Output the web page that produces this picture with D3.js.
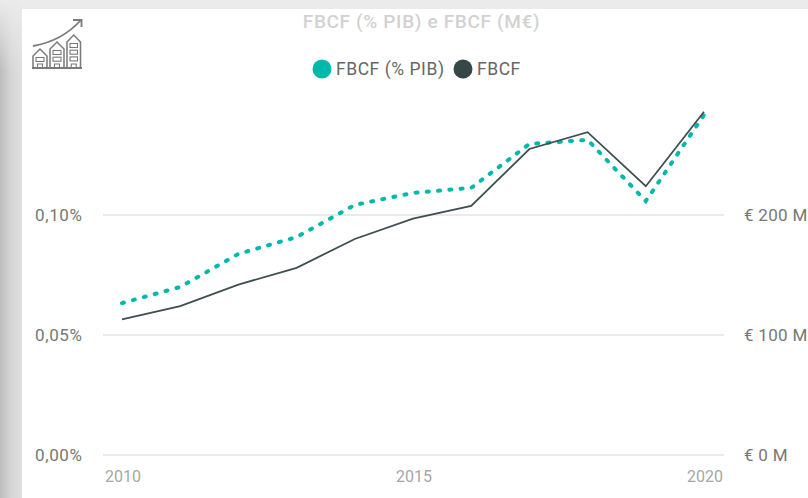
<!DOCTYPE html>
<html><head><meta charset="utf-8">
<script src="https://cdn.jsdelivr.net/npm/d3@7"></script>
<style>
html,body{margin:0;padding:0;background:#fff;overflow:hidden}
svg{display:block}
text{font-family:Roboto,"Noto Sans",sans-serif}
</style></head><body><div id="chart"></div>
<script>
const years=[2010,2011,2012,2013,2014,2015,2016,2017,2018,2019,2020];
const pctValues=[0.0633,0.0700,0.0838,0.0908,0.1042,0.1092,0.1113,0.1296,0.1313,0.1058,0.1417];
const fbcfValues=[113,124,142,156,180,197,207.5,255,269,224,286];
const leftTicks=[0,0.05,0.10];
const rightTicks=[0,100,200];
const xTicks=[2010,2015,2020];
const titleText="FBCF (% PIB) e FBCF (M€)";
const legendLabels=["FBCF (% PIB)","FBCF"];
const teal="#01b8aa", dark="#374649";

const svg=d3.select("#chart").append("svg").attr("width",808).attr("height",498);
const defs=svg.append("defs");
const g1=defs.append("linearGradient").attr("id","leftShade");
g1.append("stop").attr("offset","0").attr("stop-color","#bdbdbd");
g1.append("stop").attr("offset","0.5").attr("stop-color","#d6d6d6");
g1.append("stop").attr("offset","1").attr("stop-color","#e0e0e0");
const g2=defs.append("linearGradient").attr("id","topFade").attr("x2",0).attr("y2",1);
g2.append("stop").attr("offset","0").attr("stop-color","#ebebeb").attr("stop-opacity",1);
g2.append("stop").attr("offset","1").attr("stop-color","#ebebeb").attr("stop-opacity",0);
svg.append("rect").attr("width",808).attr("height",9).attr("fill","#ebebeb");
svg.append("rect").attr("width",22).attr("height",498).attr("fill","url(#leftShade)");
svg.append("rect").attr("width",22).attr("height",70).attr("fill","url(#topFade)");

const x=d3.scaleLinear().domain([2010,2020]).range([122,704]);
const yL=d3.scaleLinear().domain([0,0.05]).range([455,335]);
const yR=d3.scaleLinear().domain([0,100]).range([455,335]);

svg.append("g").selectAll("line").data(leftTicks).join("line")
 .attr("x1",103).attr("x2",724).attr("y1",d=>yL(d)).attr("y2",d=>yL(d))
 .attr("stroke","#eaeaea").attr("stroke-width",2);

svg.append("g").selectAll("text").data(leftTicks).join("text")
 .attr("x",82.5).attr("y",d=>yL(d)+6).attr("text-anchor","end")
 .attr("font-size",17).attr("letter-spacing",0.6).attr("fill","#777")
 .text(d=>d3.format(".2f")(d).replace(".",",")+"%");
svg.append("g").selectAll("text").data(rightTicks).join("text")
 .attr("x",744).attr("y",d=>yR(d)+6)
 .attr("font-size",17).attr("letter-spacing",0.3).attr("fill","#777")
 .text(d=>"€ "+d+" M");
svg.append("g").selectAll("text").data(xTicks).join("text")
 .attr("x",d=>x(d)+1).attr("y",482)
 .attr("text-anchor","middle").attr("font-size",16).attr("fill","#a6a6a6")
 .text(d=>d);

const linePct=d3.line().x((d,i)=>x(years[i])).y(d=>yL(d));
const lineEur=d3.line().x((d,i)=>x(years[i])).y(d=>yR(d));
svg.append("path").attr("d",linePct(pctValues)).attr("fill","none")
 .attr("stroke",teal).attr("stroke-width",4).attr("stroke-linecap","round").attr("stroke-dasharray","2 9.3");
svg.append("path").attr("d",lineEur(fbcfValues)).attr("fill","none")
 .attr("stroke","#3f4e50").attr("stroke-width",1.8);

svg.append("text").attr("x",421.5).attr("y",28).attr("text-anchor","middle")
 .attr("font-size",19).attr("letter-spacing",0.65).attr("font-weight",500).attr("fill","#d2d2d2").text(titleText);

const leg=svg.append("g");
leg.append("circle").attr("cx",322).attr("cy",69).attr("r",9.5).attr("fill",teal);
leg.append("text").attr("x",336).attr("y",75).attr("font-size",17.5).attr("letter-spacing",0.55).attr("fill","#666").text(legendLabels[0]);
leg.append("circle").attr("cx",463).attr("cy",69).attr("r",9.5).attr("fill",dark);
leg.append("text").attr("x",477).attr("y",75).attr("font-size",17.5).attr("letter-spacing",0.55).attr("fill","#666").text(legendLabels[1]);

// icon: houses under a rising arrow
const ic=svg.append("g").attr("fill","none").attr("stroke","#7a7a7a").attr("stroke-width",1.5);
ic.append("path").attr("d","M33 46Q62 41 81 20").attr("stroke-width",1.8);
ic.append("path").attr("d","M73 20H81.5V27").attr("stroke-width",1.8);
ic.append("path").attr("d","M32 68H82").attr("stroke-width",1.8);
const houses=[[33,47,50],[50,64,43],[67,80.5,36]];
houses.forEach(([a,b,t])=>{
  const m=(a+b)/2;
  ic.append("path").attr("d",`M${a} 68V${t+6}L${m} ${t-1}L${b} ${t+6}V68`);
  d3.range(t+7.5,62,6.7).forEach(r=>ic.append("rect").attr("x",a+3).attr("y",r).attr("width",b-a-6).attr("height",4).attr("stroke-width",1.1));
  ic.append("path").attr("d",`M${m-2.5} 68V64H${m+2.5}V68`).attr("stroke-width",1.1);
});
</script></body></html>
